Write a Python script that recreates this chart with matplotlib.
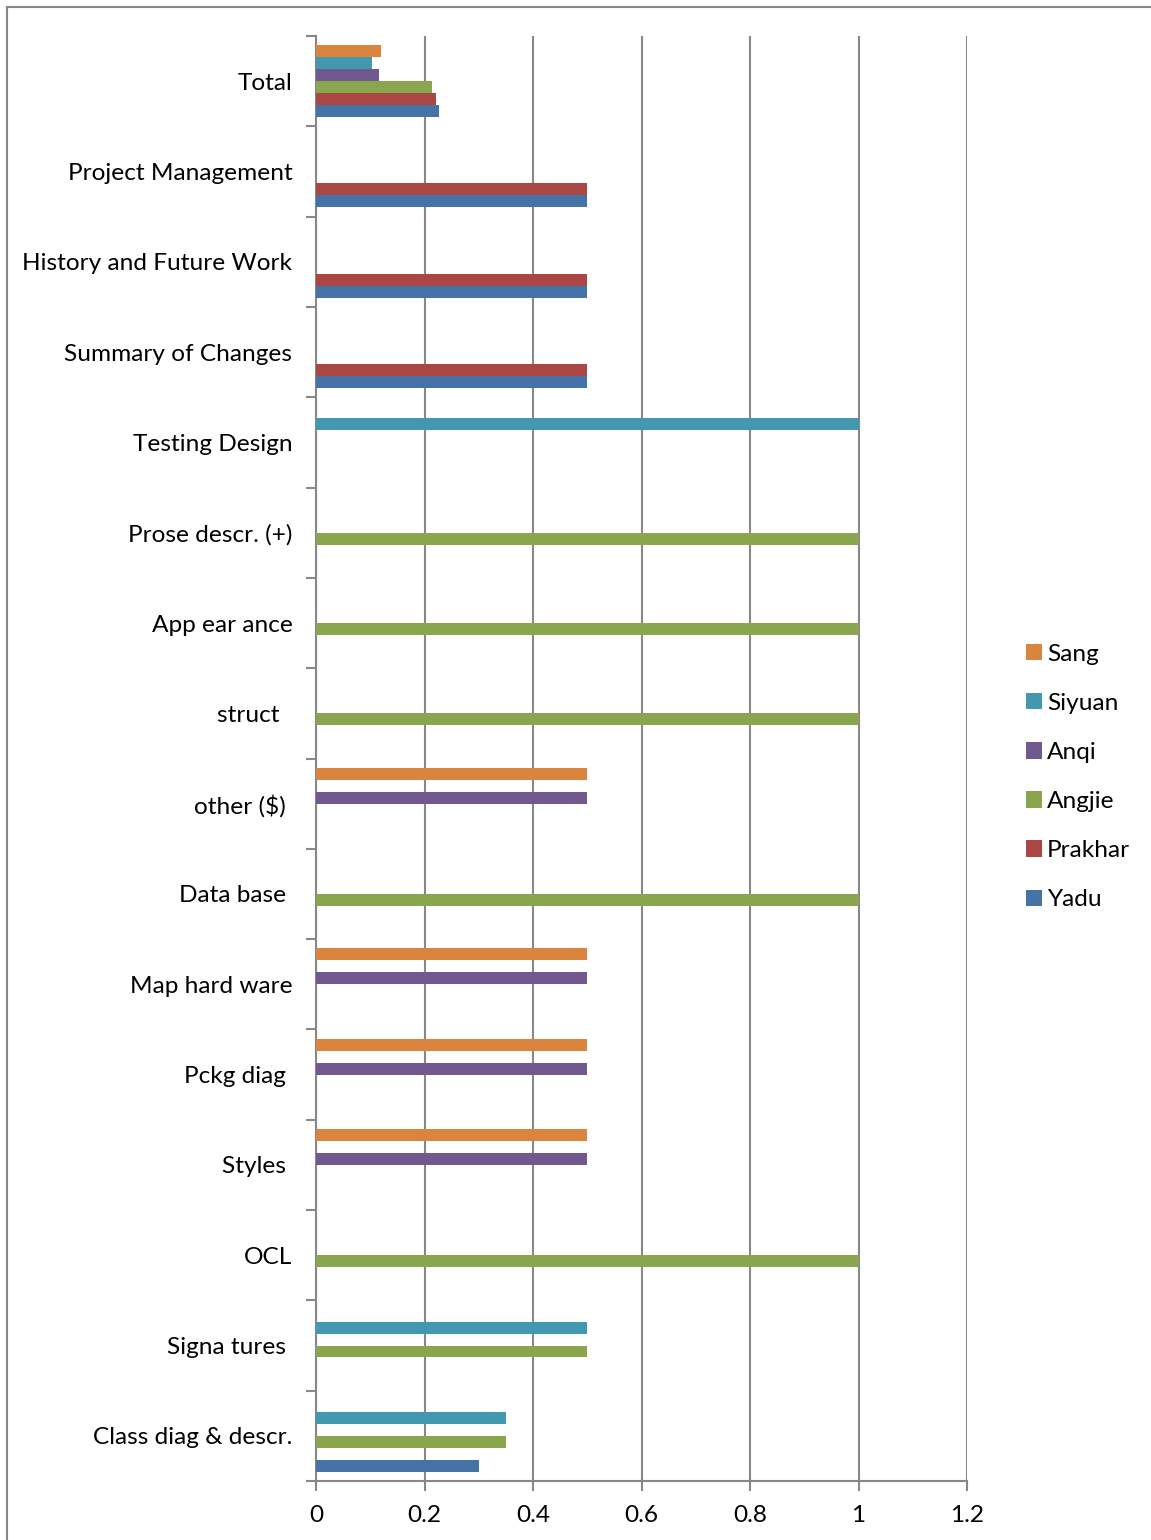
import matplotlib
matplotlib.use("Agg")
import matplotlib.pyplot as plt
import numpy as np
from matplotlib.patches import Rectangle, Patch
from matplotlib.ticker import FuncFormatter, FixedLocator

plt.rcParams['font.family'] = ['Lato', 'DejaVu Sans']

# categories listed bottom to top
categories = ["Class diag & descr.", "Signa tures ", "OCL", "Styles ", "Pckg diag ",
              "Map hard ware", "Data base ", "other ($) ", "struct  ", "App ear ance",
              "Prose descr. (+)", "Testing Design", "Summary of Changes",
              "History and Future Work", "Project Management", "Total"]

# series (bottom bar within a group first)
series_names = ["Yadu", "Prakhar", "Angjie", "Anqi", "Siyuan", "Sang"]
yadu    = [0.30, 0,    0, 0,   0,   0,   0, 0,   0, 0, 0, 0, 0.5, 0.5, 0.5, 0.227]
prakhar = [0,    0,    0, 0,   0,   0,   0, 0,   0, 0, 0, 0, 0.5, 0.5, 0.5, 0.222]
angjie  = [0.35, 0.5,  1, 0,   0,   0,   1, 0,   1, 1, 1, 0, 0,   0,   0,   0.214]
anqi    = [0,    0,    0, 0.5, 0.5, 0.5, 0, 0.5, 0, 0, 0, 0, 0,   0,   0,   0.116]
siyuan  = [0.35, 0.5,  0, 0,   0,   0,   0, 0,   0, 0, 0, 1, 0,   0,   0,   0.104]
sang    = [0,    0,    0, 0.5, 0.5, 0.5, 0, 0.5, 0, 0, 0, 0, 0,   0,   0,   0.120]
series_values = [yadu, prakhar, angjie, anqi, siyuan, sang]
colors = ["#4572A7", "#AA4643", "#89A54E", "#71588F", "#4198AF", "#DB843D"]

x_ticks = [0, 0.2, 0.4, 0.6, 0.8, 1.0, 1.2]

fig = plt.figure(figsize=(11.51, 15.40), dpi=100)
fig.patch.set_facecolor("white")
# outer chart frame (top and left visible)
fig.patches.append(Rectangle((7/1151, -0.05), 1.2, 1 - 7/1540 + 0.05,
                             transform=fig.transFigure, fill=False,
                             edgecolor="#888888", linewidth=1.5))

ax = fig.add_axes([316/1151, 1 - 1481/1540, (967 - 316)/1151, (1481 - 36)/1540])

n = len(categories)
h = 12/90.56
y = np.arange(n)
for j, (vals, c) in enumerate(zip(series_values, colors)):
    ax.barh(y - 2.5*h + j*h, vals, height=h, color=c, edgecolor="none", zorder=3)

ax.set_xlim(0, 1.2)
ax.set_ylim(-0.5, n - 0.5)
ax.set_xticks(x_ticks)
ax.xaxis.set_major_formatter(FuncFormatter(lambda v, p: f"{v:g}"))
ax.grid(axis="x", color="#888888", linewidth=1.5, zorder=0)

ax.set_yticks(y)
ax.set_yticklabels(categories)
ax.yaxis.set_minor_locator(FixedLocator(np.arange(-0.5, n, 1)))
ax.tick_params(axis="y", which="major", length=0, pad=17, labelsize=17.6)
ax.tick_params(axis="y", which="minor", length=7, width=1.5, color="#888888", direction="out")
ax.tick_params(axis="x", which="major", length=7, width=1.5, color="#888888", direction="out",
               pad=10.5, labelsize=17.6)

for s in ["top", "right"]:
    ax.spines[s].set_visible(False)
for s in ["left", "bottom"]:
    ax.spines[s].set_color("#888888")
    ax.spines[s].set_linewidth(1.5)

handles = [Patch(facecolor=c, edgecolor="none") for c in colors]
leg = fig.legend(handles[::-1], series_names[::-1], loc="center left",
                 bbox_to_anchor=(1004/1151, 1 - 777/1540), frameon=False,
                 fontsize=17.6, handlelength=0.65, handleheight=0.65,
                 handletextpad=0.2, labelspacing=1.15)

fig.savefig("out.png", dpi=100, facecolor="white")
